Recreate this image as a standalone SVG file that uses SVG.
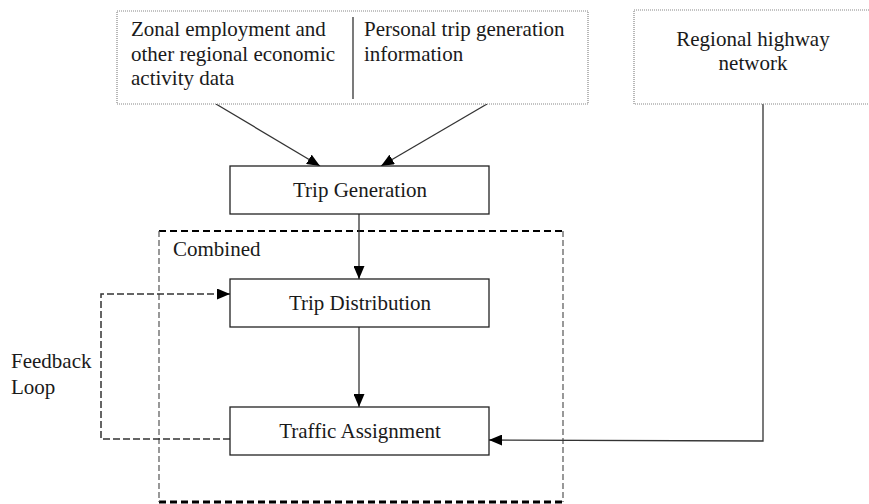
<svg xmlns="http://www.w3.org/2000/svg" width="869" height="504" viewBox="0 0 869 504">
  <defs>
    <marker id="arrow" viewBox="0 0 13 11" refX="13" refY="5.5" markerWidth="13" markerHeight="11" markerUnits="userSpaceOnUse" orient="auto">
      <path d="M0,0 L13,5.5 L0,11 Z" fill="#000"/>
    </marker>
    <style>
      text { font-family: 'Liberation Serif', 'DejaVu Serif', serif; font-size: 21px; fill: #1a1a1a; }
      .mid { text-anchor: middle; }
      .box { fill: #fff; stroke: #222; stroke-width: 1.3; }
      .dotted { fill: #fff; stroke: #888; stroke-width: 1.2; stroke-dasharray: 1 1; }
      .link { fill: none; stroke: #333; stroke-width: 1.3; }
      .fb { fill: none; stroke: #333; stroke-width: 1.5; stroke-dasharray: 7 3; }
      .grp-top { fill: none; stroke: #000; stroke-width: 1.8; stroke-dasharray: 7 4; }
      .grp-bottom { fill: none; stroke: #000; stroke-width: 3; stroke-dasharray: 7 4; }
      .grp-v { fill: none; stroke: #555; stroke-width: 1.2; stroke-dasharray: 6 3; }
    </style>
  </defs>

  <!-- combined stage frame -->
  <g id="combined">
    <line class="grp-top" x1="159" y1="231" x2="563" y2="231"/>
    <line class="grp-bottom" x1="159" y1="502" x2="563" y2="502"/>
    <line class="grp-v" x1="159" y1="231" x2="159" y2="502"/>
    <line class="grp-v" x1="563" y1="231" x2="563" y2="502"/>
    <text x="173" y="256">Combined</text>
  </g>

  <g id="connectors">
    <line class="link" x1="216" y1="104" x2="320" y2="166" marker-end="url(#arrow)"/>
    <line class="link" x1="487" y1="104" x2="381" y2="166" marker-end="url(#arrow)"/>
    <line class="link" x1="359" y1="214" x2="359" y2="279" marker-end="url(#arrow)"/>
    <line class="link" x1="359" y1="327" x2="359" y2="407" marker-end="url(#arrow)"/>
    <polyline class="link" points="763,104 763,441 489,440" marker-end="url(#arrow)"/>
    <polyline class="fb" points="230,439 101,439 101,294 230,294" marker-end="url(#arrow)"/>
  </g>

  <g id="inputs">
    <rect class="dotted" x="117" y="11" width="471" height="93"/>
    <line x1="353" y1="17" x2="353" y2="99" stroke="#333" stroke-width="1.3"/>
    <text x="131" y="36">Zonal employment and</text>
    <text x="131" y="61">other regional economic</text>
    <text x="131" y="85">activity data</text>
    <text x="364" y="36">Personal trip generation</text>
    <text x="364" y="61">information</text>
  </g>

  <g id="highway">
    <rect class="dotted" x="634" y="10" width="240" height="94"/>
    <text class="mid" x="753" y="46">Regional highway</text>
    <text class="mid" x="753" y="70">network</text>
  </g>

  <g id="trip-generation">
    <rect class="box" x="230" y="166" width="259" height="48"/>
    <text class="mid" x="360" y="197">Trip Generation</text>
  </g>

  <g id="trip-distribution">
    <rect class="box" x="230" y="279" width="259" height="48"/>
    <text class="mid" x="360" y="310">Trip Distribution</text>
  </g>

  <g id="traffic-assignment">
    <rect class="box" x="230" y="407" width="259" height="48"/>
    <text class="mid" x="360" y="438">Traffic Assignment</text>
  </g>

  <g id="feedback-label">
    <text x="11" y="368">Feedback</text>
    <text x="11" y="394">Loop</text>
  </g>
</svg>
